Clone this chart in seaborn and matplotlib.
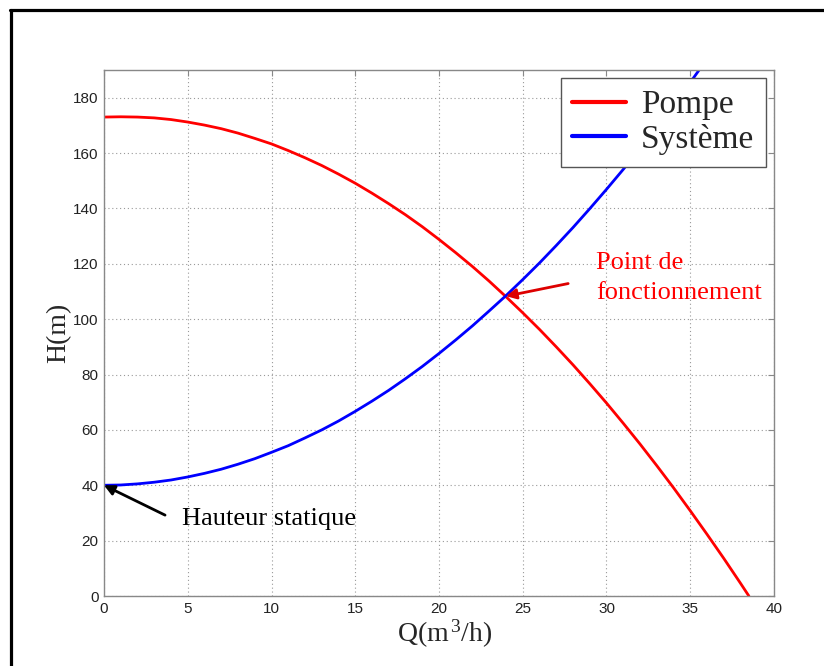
import matplotlib
matplotlib.use("Agg")
import matplotlib.pyplot as plt
from matplotlib.lines import Line2D
import seaborn as sns
import pandas as pd

# Data
q_pompe = [0, 1, 2, 3, 4, 5, 6, 7, 8, 9, 10, 11, 12, 13, 14, 15, 16, 17, 18, 19, 20,
           21, 22, 23, 24, 25, 26, 27, 28, 29, 30, 31, 32, 33, 34, 35, 36, 37, 38, 38.5]
h_pompe = [173.0, 173.1, 173.0, 172.7, 172.1, 171.2, 170.1, 168.8, 167.2, 165.3, 163.3,
           160.9, 158.3, 155.5, 152.4, 149.1, 145.5, 141.7, 137.7, 133.4, 128.8,
           124.0, 119.0, 113.7, 108.1, 102.3, 96.3, 90.0, 83.5, 76.7, 69.7,
           62.4, 54.9, 47.1, 39.1, 30.8, 22.3, 13.6, 4.6, 0.0]
q_systeme = [0, 1, 2, 3, 4, 5, 6, 7, 8, 9, 10, 11, 12, 13, 14, 15, 16, 17, 18, 19, 20,
             21, 22, 23, 24, 25, 26, 27, 28, 29, 30, 31, 32, 33, 34, 35, 36]
h_systeme = [40.0, 40.1, 40.5, 41.1, 41.9, 43.0, 44.3, 45.8, 47.6, 49.6, 51.9,
             54.3, 57.1, 60.0, 63.2, 66.7, 70.4, 74.3, 78.5, 82.9, 87.6,
             92.5, 97.6, 103.0, 108.5, 114.3, 120.3, 126.6, 133.1, 139.9, 146.9,
             154.1, 161.6, 169.3, 177.3, 185.5, 194.0]
series_names = ["Pompe", "Système"]
x_ticks = [0, 5, 10, 15, 20, 25, 30, 35, 40]
y_ticks = [0, 20, 40, 60, 80, 100, 120, 140, 160, 180]
point_fonct = (24, 108.3)
hauteur_statique = (0, 40)

sns.set_style("white")
plt.rcParams['font.family'] = ['Liberation Sans', 'DejaVu Sans']
plt.rcParams['mathtext.fontset'] = 'custom'
plt.rcParams['mathtext.rm'] = 'Liberation Serif'
plt.rcParams['mathtext.it'] = 'Liberation Serif:italic'

df = pd.concat([
    pd.DataFrame({"Q": q_pompe, "H": h_pompe, "courbe": series_names[0]}),
    pd.DataFrame({"Q": q_systeme, "H": h_systeme, "courbe": series_names[1]}),
])

fig = plt.figure(figsize=(8.24, 6.66), dpi=100)
ax = fig.add_axes([104/824, 1-596/666, (774-104)/824, (596-70)/666])

sns.lineplot(data=df, x="Q", y="H", hue="courbe", sort=False, estimator=None,
             palette={"Pompe": "#FF0000", "Système": "#0000FF"}, linewidth=2.0, ax=ax)

ax.set_xlim(0, 40)
ax.set_ylim(0, 190)
ax.set_xticks(x_ticks)
ax.set_yticks(y_ticks)
ax.grid(True, linestyle=(0, (1, 2.5)), color="#999999", linewidth=0.8)
for s in ax.spines.values():
    s.set_color("#888888")
    s.set_linewidth(1.0)
ax.tick_params(direction="in", length=4, width=0.8, color="#888888",
               top=True, right=True, labelsize=11, labelcolor="#222222", pad=4)

serif = ['Liberation Serif', 'DejaVu Serif']
ax.set_xlabel(r"Q(m$^{\,\mathrm{3}}$/h)", fontsize=20, family=serif)
ax.xaxis.set_label_coords(0.509, -0.072, transform=ax.transAxes)
ax.xaxis.label.set_va("center")
ax.set_ylabel("H(m)", fontsize=20, family=serif, labelpad=1)

leg = ax.legend(loc="upper right", prop={'family': serif, 'size': 24},
                frameon=True, fancybox=False, edgecolor="#555555", framealpha=1,
                handlelength=1.6, borderpad=0.35, labelspacing=0.1,
                handletextpad=0.45, borderaxespad=0.25)
leg.get_frame().set_linewidth(1.0)
for lh in leg.get_lines():
    lh.set_linewidth(3)

ax.annotate("Point de\nfonctionnement", xy=point_fonct, xytext=(29.37, 114.9),
            color="#FF0000", fontsize=19, family=serif, ha="left", va="center",
            linespacing=1.45,
            arrowprops=dict(arrowstyle="-|>", color="#DD0000", lw=2,
                            mutation_scale=15, shrinkA=18, shrinkB=0,
                            relpos=(0, 0.5)))
ax.annotate("Hauteur statique", xy=hauteur_statique, xytext=(4.66, 27.8),
            color="black", fontsize=19, family=serif, ha="left", va="center",
            arrowprops=dict(arrowstyle="-|>", color="black", lw=2,
                            mutation_scale=15, shrinkA=11, shrinkB=0,
                            relpos=(0, 0.3)))

# figure frame (top and left visible)
fig.add_artist(Line2D([10/824, 1], [1-9.5/666, 1-9.5/666], transform=fig.transFigure,
                      color="black", linewidth=2.3))
fig.add_artist(Line2D([10.5/824, 10.5/824], [0, 1-9.5/666], transform=fig.transFigure,
                      color="black", linewidth=2.3))

fig.savefig("out.png", dpi=100)
